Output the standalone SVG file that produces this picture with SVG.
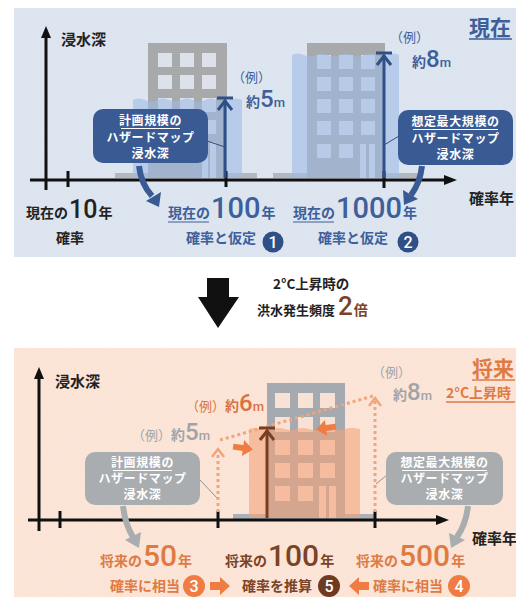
<svg xmlns="http://www.w3.org/2000/svg" width="516" height="597" viewBox="0 0 516 597">
  <defs>
    <style>
      .jp { font-family: "Noto Sans CJK JP", "Noto Sans", sans-serif; font-weight: 700; }
      .jpn { font-family: "Noto Sans CJK JP", "Noto Sans", sans-serif; font-weight: 400; }
      .num { font-family: "Roboto", "Liberation Sans", sans-serif; font-weight: 500; }
      .axis { stroke: #111; stroke-width: 3; fill: none; }
      .box-blue { fill: #3a5a94; }
      .box-gray { fill: #a9adb0; }
      .boxtext { fill: #fff; font-size: 12px; letter-spacing: 0.6px; text-anchor: middle; }
      .dot { stroke: #f2a47c; stroke-width: 3; stroke-dasharray: 3 3; fill: none; }
      .chev { stroke: #f2a47c; stroke-width: 2.5; fill: none; }
      .pointer { stroke-width: 1; fill: none; }
    </style>
    <pattern id="hatch" width="4" height="4" patternUnits="userSpaceOnUse" patternTransform="rotate(45)">
      <line x1="0" y1="0" x2="0" y2="4" stroke="#ffffff" stroke-width="1" opacity="0.18"/>
    </pattern>
  </defs>

  <rect width="516" height="597" fill="#ffffff"/>

  <!-- present-day panel -->
  <g id="panel-present">
    <rect x="14" y="8" width="502" height="249" fill="#dce4ef"/>
    <rect x="14" y="8" width="502" height="249" fill="url(#hatch)"/>
  </g>

  <!-- future panel -->
  <g id="panel-future">
    <rect x="14" y="348" width="502" height="249" fill="#fbe4d6"/>
    <rect x="14" y="348" width="502" height="249" fill="url(#hatch)"/>
  </g>

  <!-- ground strips -->
  <rect x="115" y="173" width="142" height="5" fill="#b3b8bf"/>
  <rect x="273" y="173" width="150" height="5" fill="#b3b8bf"/>
  <rect x="233" y="514" width="142" height="5" fill="#a9b1bb"/>

  <!-- building, present 100-year -->
  <g id="building-a">
    <rect x="148" y="43" width="79" height="135" fill="#a7a9ab"/>
    <g fill="#dde2ea">
      <rect x="158" y="53" width="14" height="14"/><rect x="180" y="53" width="14" height="14"/><rect x="202" y="53" width="14" height="14"/>
      <rect x="158" y="75" width="14" height="14"/><rect x="180" y="75" width="14" height="14"/><rect x="202" y="75" width="14" height="14"/>
      <rect x="158" y="98" width="14" height="14"/><rect x="180" y="98" width="14" height="14"/><rect x="202" y="98" width="14" height="14"/>
      <rect x="158" y="120" width="14" height="14"/><rect x="180" y="120" width="14" height="14"/><rect x="202" y="120" width="14" height="14"/>
      <rect x="158" y="142" width="14" height="14"/><rect x="180" y="142" width="14" height="14"/>
      <rect x="202" y="142" width="6" height="36"/><rect x="210" y="142" width="6" height="36"/>
    </g>
    <path d="M133,100 q6,-3 12,0 t12,0 t12,0 t12,0 t12,0 t12,0 t12,0 t12,0 t13,0 V178 H133 Z" fill="#9ebbe6" opacity="0.6"/>
  </g>

  <!-- building, present 1000-year -->
  <g id="building-b">
    <rect x="307" y="43" width="78" height="135" fill="#a7a9ab"/>
    <g fill="#dde2ea">
      <rect x="317" y="55" width="14" height="14"/><rect x="339" y="55" width="14" height="14"/><rect x="361" y="55" width="14" height="14"/>
      <rect x="317" y="77" width="14" height="14"/><rect x="339" y="77" width="14" height="14"/><rect x="361" y="77" width="14" height="14"/>
      <rect x="317" y="99" width="14" height="14"/><rect x="339" y="99" width="14" height="14"/><rect x="361" y="99" width="14" height="14"/>
      <rect x="317" y="121" width="14" height="14"/><rect x="339" y="121" width="14" height="14"/><rect x="361" y="121" width="14" height="14"/>
      <rect x="317" y="144" width="14" height="14"/><rect x="339" y="144" width="14" height="14"/>
      <rect x="360" y="144" width="6" height="34"/><rect x="369" y="144" width="6" height="34"/>
    </g>
    <path d="M292,55 q6,-3 12,0 t12,0 t12,0 t12,0 t12,0 t12,0 t12,0 t12,0 t11,0 V178 H292 Z" fill="#9ebbe6" opacity="0.6"/>
  </g>

  <!-- building, future -->
  <g id="building-c">
    <rect x="267" y="383" width="78" height="135" fill="#a5aab0"/>
    <g fill="#f8e2d6">
      <rect x="275" y="393" width="15" height="15"/><rect x="298" y="393" width="15" height="15"/><rect x="320" y="393" width="15" height="15"/>
      <rect x="275" y="417" width="15" height="15"/><rect x="298" y="417" width="15" height="15"/><rect x="320" y="417" width="15" height="15"/>
      <rect x="275" y="440" width="15" height="15"/><rect x="298" y="440" width="15" height="15"/><rect x="320" y="440" width="15" height="15"/>
      <rect x="275" y="463" width="15" height="15"/><rect x="298" y="463" width="15" height="15"/><rect x="320" y="463" width="15" height="15"/>
      <rect x="275" y="486" width="15" height="15"/><rect x="298" y="486" width="15" height="15"/>
      <rect x="319" y="486" width="7" height="32"/><rect x="329" y="486" width="7" height="32"/>
    </g>
    <path d="M249,429 q6,-2 12,0 t12,0 t12,0 t12,0 t12,0 t12,0 t12,0 t12,0 t15,0 V518 H249 Z" fill="#f4a47a" opacity="0.6"/>
  </g>

  <!-- axes -->
  <g id="axes-present">
    <line class="axis" x1="46" y1="34" x2="46" y2="190"/>
    <polygon points="46,26 41,38 51,38" fill="#111"/>
    <line class="axis" x1="30" y1="180" x2="446" y2="180"/>
    <polygon points="457,180 444,175 444,185" fill="#111"/>
    <line class="axis" x1="68" y1="171" x2="68" y2="187"/>
    <line class="axis" x1="226" y1="171" x2="226" y2="187"/>
    <line class="axis" x1="384" y1="171" x2="384" y2="188"/>
  </g>
  <g id="axes-future">
    <line class="axis" x1="39" y1="376" x2="39" y2="531"/>
    <polygon points="39,367 34,379 44,379" fill="#111"/>
    <line class="axis" x1="28" y1="520" x2="438" y2="520"/>
    <polygon points="449,520 436,515 436,525" fill="#111"/>
    <line class="axis" x1="60" y1="511" x2="60" y2="528"/>
    <line class="axis" x1="218" y1="511" x2="218" y2="528"/>
    <line class="axis" x1="375" y1="511" x2="375" y2="528"/>
  </g>

  <!-- axis titles -->
  <text class="jp" x="61" y="45" font-size="15" fill="#222">浸水深</text>
  <text class="jp" x="469" y="204" font-size="15" fill="#222">確率年</text>
  <text class="jp" x="55" y="387" font-size="15" fill="#222">浸水深</text>
  <text class="jp" x="472" y="544" font-size="15" fill="#222">確率年</text>

  <!-- panel headings -->
  <g id="heading-present">
    <text class="jp" x="469" y="35" font-size="21" fill="#3d5f9a">現在</text>
    <line x1="469" y1="39" x2="512" y2="39" stroke="#3d5f9a" stroke-width="1.5"/>
  </g>
  <g id="heading-future">
    <text class="jp" x="472" y="376" font-size="21" fill="#df7a44">将来</text>
    <line x1="472" y1="380" x2="515" y2="380" stroke="#df7a44" stroke-width="1.5"/>
    <text class="jp" x="446" y="398" font-size="14" fill="#df7a44">2°C上昇時</text>
    <line x1="446" y1="402" x2="515" y2="402" stroke="#df7a44" stroke-width="1.5"/>
  </g>

  <!-- depth markers and connectors -->
  <g id="connectors">
    <!-- present 5 m -->
    <g stroke="#2f4f87" stroke-width="3" fill="none">
      <line x1="225" y1="178" x2="225" y2="100"/>
      <line x1="217" y1="98" x2="233" y2="98"/>
      <polyline points="218,110 225,101 232,110"/>
    </g>
    <!-- present 8 m -->
    <g stroke="#2f4f87" stroke-width="3" fill="none">
      <line x1="384" y1="178" x2="384" y2="55"/>
      <line x1="376" y1="53" x2="392" y2="53"/>
      <polyline points="377,65 384,56 391,65"/>
    </g>
    <!-- callout pointers, present -->
    <line class="pointer" x1="207" y1="141" x2="225" y2="147" stroke="#2f4f87"/>
    <line class="pointer" x1="384" y1="145" x2="399" y2="136" stroke="#2f4f87"/>

    <!-- curved arrows, present -->
    <path d="M139,166 Q141,184 152,196" stroke="#3a5a94" stroke-width="6" fill="none"/>
    <polygon points="159,207 161,192 146,201" fill="#3a5a94"/>
    <path d="M422,166 Q420,183 411,195" stroke="#3a5a94" stroke-width="6" fill="none"/>
    <polygon points="404,205 418,199 403,190" fill="#3a5a94"/>

    <!-- future dotted guides -->
    <line class="dot" x1="218" y1="512" x2="218" y2="452"/>
    <polyline class="chev" points="212,457 218,449 224,457"/>
    <line class="dot" x1="375" y1="512" x2="375" y2="401"/>
    <polyline class="chev" points="369,406 375,398 381,406"/>
    <line class="dot" x1="220" y1="440" x2="373" y2="396"/>

    <!-- future 6 m -->
    <g stroke="#7a3f22" stroke-width="3" fill="none">
      <line x1="267" y1="518" x2="267" y2="430"/>
      <line x1="259" y1="428" x2="275" y2="428"/>
      <polyline points="260,440 267,431 274,440"/>
    </g>

    <!-- rise arrows -->
    <polygon points="233,445 243,445 243,440 253,448 243,456 243,451 233,451" fill="#ef7d43" transform="rotate(8 243 448)"/>
    <polygon points="336,425 326,425 326,420 316,428 326,436 326,431 336,431" fill="#ef7d43" transform="rotate(-8 326 428)"/>

    <!-- callout pointers, future -->
    <line class="pointer" x1="200" y1="480" x2="217" y2="498" stroke="#8e9296"/>
    <line class="pointer" x1="376" y1="484" x2="387" y2="475" stroke="#8e9296"/>

    <!-- curved arrows, future -->
    <path d="M123,506 Q125,524 133,537" stroke="#a9adb0" stroke-width="6" fill="none"/>
    <polygon points="139,548 141,532 125,540" fill="#a9adb0"/>
    <path d="M468,506 Q466,524 457,537" stroke="#a9adb0" stroke-width="6" fill="none"/>
    <polygon points="451,548 465,540 449,533" fill="#a9adb0"/>

    <!-- step arrows -->
    <polygon points="210,582 220,582 220,577 230,586 220,595 220,590 210,590" fill="#ef7d43"/>
    <polygon points="369,582 359,582 359,577 349,586 359,595 359,590 369,590" fill="#ef7d43"/>
  </g>

  <!-- depth labels -->
  <g id="label-5m">
    <text class="jpn" x="232" y="82" font-size="13" fill="#3d5f9a">（例）</text>
    <text x="246" y="107" fill="#3d5f9a"><tspan class="jp" font-size="14">約</tspan><tspan class="num" font-size="24">5</tspan><tspan class="num" font-size="13">m</tspan></text>
  </g>
  <g id="label-8m">
    <text class="jpn" x="390" y="42" font-size="13" fill="#3d5f9a">（例）</text>
    <text x="412" y="67" fill="#3d5f9a"><tspan class="jp" font-size="14">約</tspan><tspan class="num" font-size="24">8</tspan><tspan class="num" font-size="13">m</tspan></text>
  </g>
  <g id="label-future-5m">
    <text x="132" y="440" fill="#a0a4a8"><tspan class="jpn" font-size="13">（例）</tspan><tspan class="jp" font-size="14">約</tspan><tspan class="num" font-size="24">5</tspan><tspan class="num" font-size="13">m</tspan></text>
  </g>
  <g id="label-future-6m">
    <text x="186" y="411" fill="#d9733f"><tspan class="jpn" font-size="13">（例）</tspan><tspan class="jp" font-size="14">約</tspan><tspan class="num" font-size="24">6</tspan><tspan class="num" font-size="13">m</tspan></text>
  </g>
  <g id="label-future-8m">
    <text class="jpn" x="372" y="377" font-size="13" fill="#a0a4a8">（例）</text>
    <text x="393" y="400" fill="#a0a4a8"><tspan class="jp" font-size="14">約</tspan><tspan class="num" font-size="24">8</tspan><tspan class="num" font-size="13">m</tspan></text>
  </g>

  <!-- callout boxes -->
  <g id="callout-plan-present">
    <rect class="box-blue" x="93" y="109" width="115" height="54" rx="10"/>
    <text class="jp boxtext" x="150.5" y="125">計画規模の</text>
    <line x1="121" y1="128.5" x2="180" y2="128.5" stroke="#fff" stroke-width="1"/>
    <text class="jp boxtext" x="150.5" y="142">ハザードマップ</text>
    <text class="jp boxtext" x="150.5" y="158">浸水深</text>
  </g>
  <g id="callout-max-present">
    <rect class="box-blue" x="398" y="110" width="115" height="55" rx="10"/>
    <text class="jp boxtext" x="455.5" y="126">想定最大規模の</text>
    <line x1="413" y1="129.5" x2="498" y2="129.5" stroke="#fff" stroke-width="1"/>
    <text class="jp boxtext" x="455.5" y="143">ハザードマップ</text>
    <text class="jp boxtext" x="455.5" y="159">浸水深</text>
  </g>
  <g id="callout-plan-future">
    <rect class="box-gray" x="85" y="452" width="115" height="53" rx="10"/>
    <text class="jp boxtext" x="142.5" y="467">計画規模の</text>
    <line x1="113" y1="470.5" x2="172" y2="470.5" stroke="#fff" stroke-width="1"/>
    <text class="jp boxtext" x="142.5" y="483">ハザードマップ</text>
    <text class="jp boxtext" x="142.5" y="499">浸水深</text>
  </g>
  <g id="callout-max-future">
    <rect class="box-gray" x="386" y="452" width="117" height="53" rx="10"/>
    <text class="jp boxtext" x="444.5" y="467">想定最大規模の</text>
    <line x1="402" y1="470.5" x2="487" y2="470.5" stroke="#fff" stroke-width="1"/>
    <text class="jp boxtext" x="444.5" y="483">ハザードマップ</text>
    <text class="jp boxtext" x="444.5" y="499">浸水深</text>
  </g>

  <!-- present probability labels -->
  <g id="label-10y">
    <text x="26" y="218" fill="#222"><tspan class="jp" font-size="14">現在の</tspan><tspan class="num" font-size="25" dx="1">10</tspan><tspan class="jp" font-size="14" dx="1">年</tspan></text>
    <text class="jp" x="70" y="243" font-size="14" fill="#222" text-anchor="middle">確率</text>
  </g>
  <g id="label-100y">
    <text x="168" y="218" fill="#3d5f9a"><tspan class="jp" font-size="14">現在の</tspan><tspan class="num" font-size="29" dx="1">100</tspan><tspan class="jp" font-size="14" dx="1">年</tspan></text>
    <line x1="168" y1="222" x2="209" y2="222" stroke="#3d5f9a" stroke-width="1.2"/>
    <text class="jp" x="186" y="243" font-size="14" fill="#3d5f9a">確率と仮定</text>
    <circle cx="273" cy="242" r="10.5" fill="#2f4f87"/>
    <text class="num" x="273" y="248" font-size="16" fill="#fff" text-anchor="middle">1</text>
  </g>
  <g id="label-1000y">
    <text x="293" y="218" fill="#3d5f9a"><tspan class="jp" font-size="14">現在の</tspan><tspan class="num" font-size="29" dx="1">1000</tspan><tspan class="jp" font-size="14" dx="1">年</tspan></text>
    <line x1="293" y1="222" x2="334" y2="222" stroke="#3d5f9a" stroke-width="1.2"/>
    <text class="jp" x="318" y="243" font-size="14" fill="#3d5f9a">確率と仮定</text>
    <circle cx="408" cy="242" r="10.5" fill="#2f4f87"/>
    <text class="num" x="408" y="248" font-size="16" fill="#fff" text-anchor="middle">2</text>
  </g>

  <!-- transition -->
  <g id="transition">
    <polygon points="207,278 229,278 229,297 239,297 218,328 198,297 207,297" fill="#111"/>
    <text class="jp" x="273" y="289" font-size="13.5" fill="#222">2°C上昇時の</text>
    <text x="257" y="315" fill="#222"><tspan class="jp" font-size="13">洪水発生頻度</tspan><tspan class="num" font-size="26" fill="#7a4327" dx="3">2</tspan><tspan class="jp" font-size="14" fill="#7a4327" dx="1">倍</tspan></text>
  </g>

  <!-- future probability labels -->
  <g id="label-50y">
    <text x="100" y="566" fill="#e07a42"><tspan class="jp" font-size="14">将来の</tspan><tspan class="num" font-size="30" dx="1">50</tspan><tspan class="jp" font-size="14" dx="1">年</tspan></text>
    <text class="jp" x="110" y="591" font-size="14" fill="#e07a42">確率に相当</text>
    <circle cx="194" cy="586" r="11" fill="#ef7d43"/>
    <text class="num" x="194" y="592" font-size="16" fill="#fff" text-anchor="middle">3</text>
  </g>
  <g id="label-100y-future">
    <text x="225" y="566" fill="#7a4327"><tspan class="jp" font-size="14">将来の</tspan><tspan class="num" font-size="30" dx="1">100</tspan><tspan class="jp" font-size="14" dx="1">年</tspan></text>
    <text class="jp" x="242" y="591" font-size="14" fill="#7a4327">確率を推算</text>
    <circle cx="329" cy="586" r="11" fill="#6f3a20"/>
    <text class="num" x="329" y="592" font-size="16" fill="#fff" text-anchor="middle">5</text>
  </g>
  <g id="label-500y">
    <text x="356" y="566" fill="#e07a42"><tspan class="jp" font-size="14">将来の</tspan><tspan class="num" font-size="30" dx="1">500</tspan><tspan class="jp" font-size="14" dx="1">年</tspan></text>
    <text class="jp" x="373" y="591" font-size="14" fill="#e07a42">確率に相当</text>
    <circle cx="459" cy="586" r="11" fill="#ef7d43"/>
    <text class="num" x="459" y="592" font-size="16" fill="#fff" text-anchor="middle">4</text>
  </g>
</svg>
